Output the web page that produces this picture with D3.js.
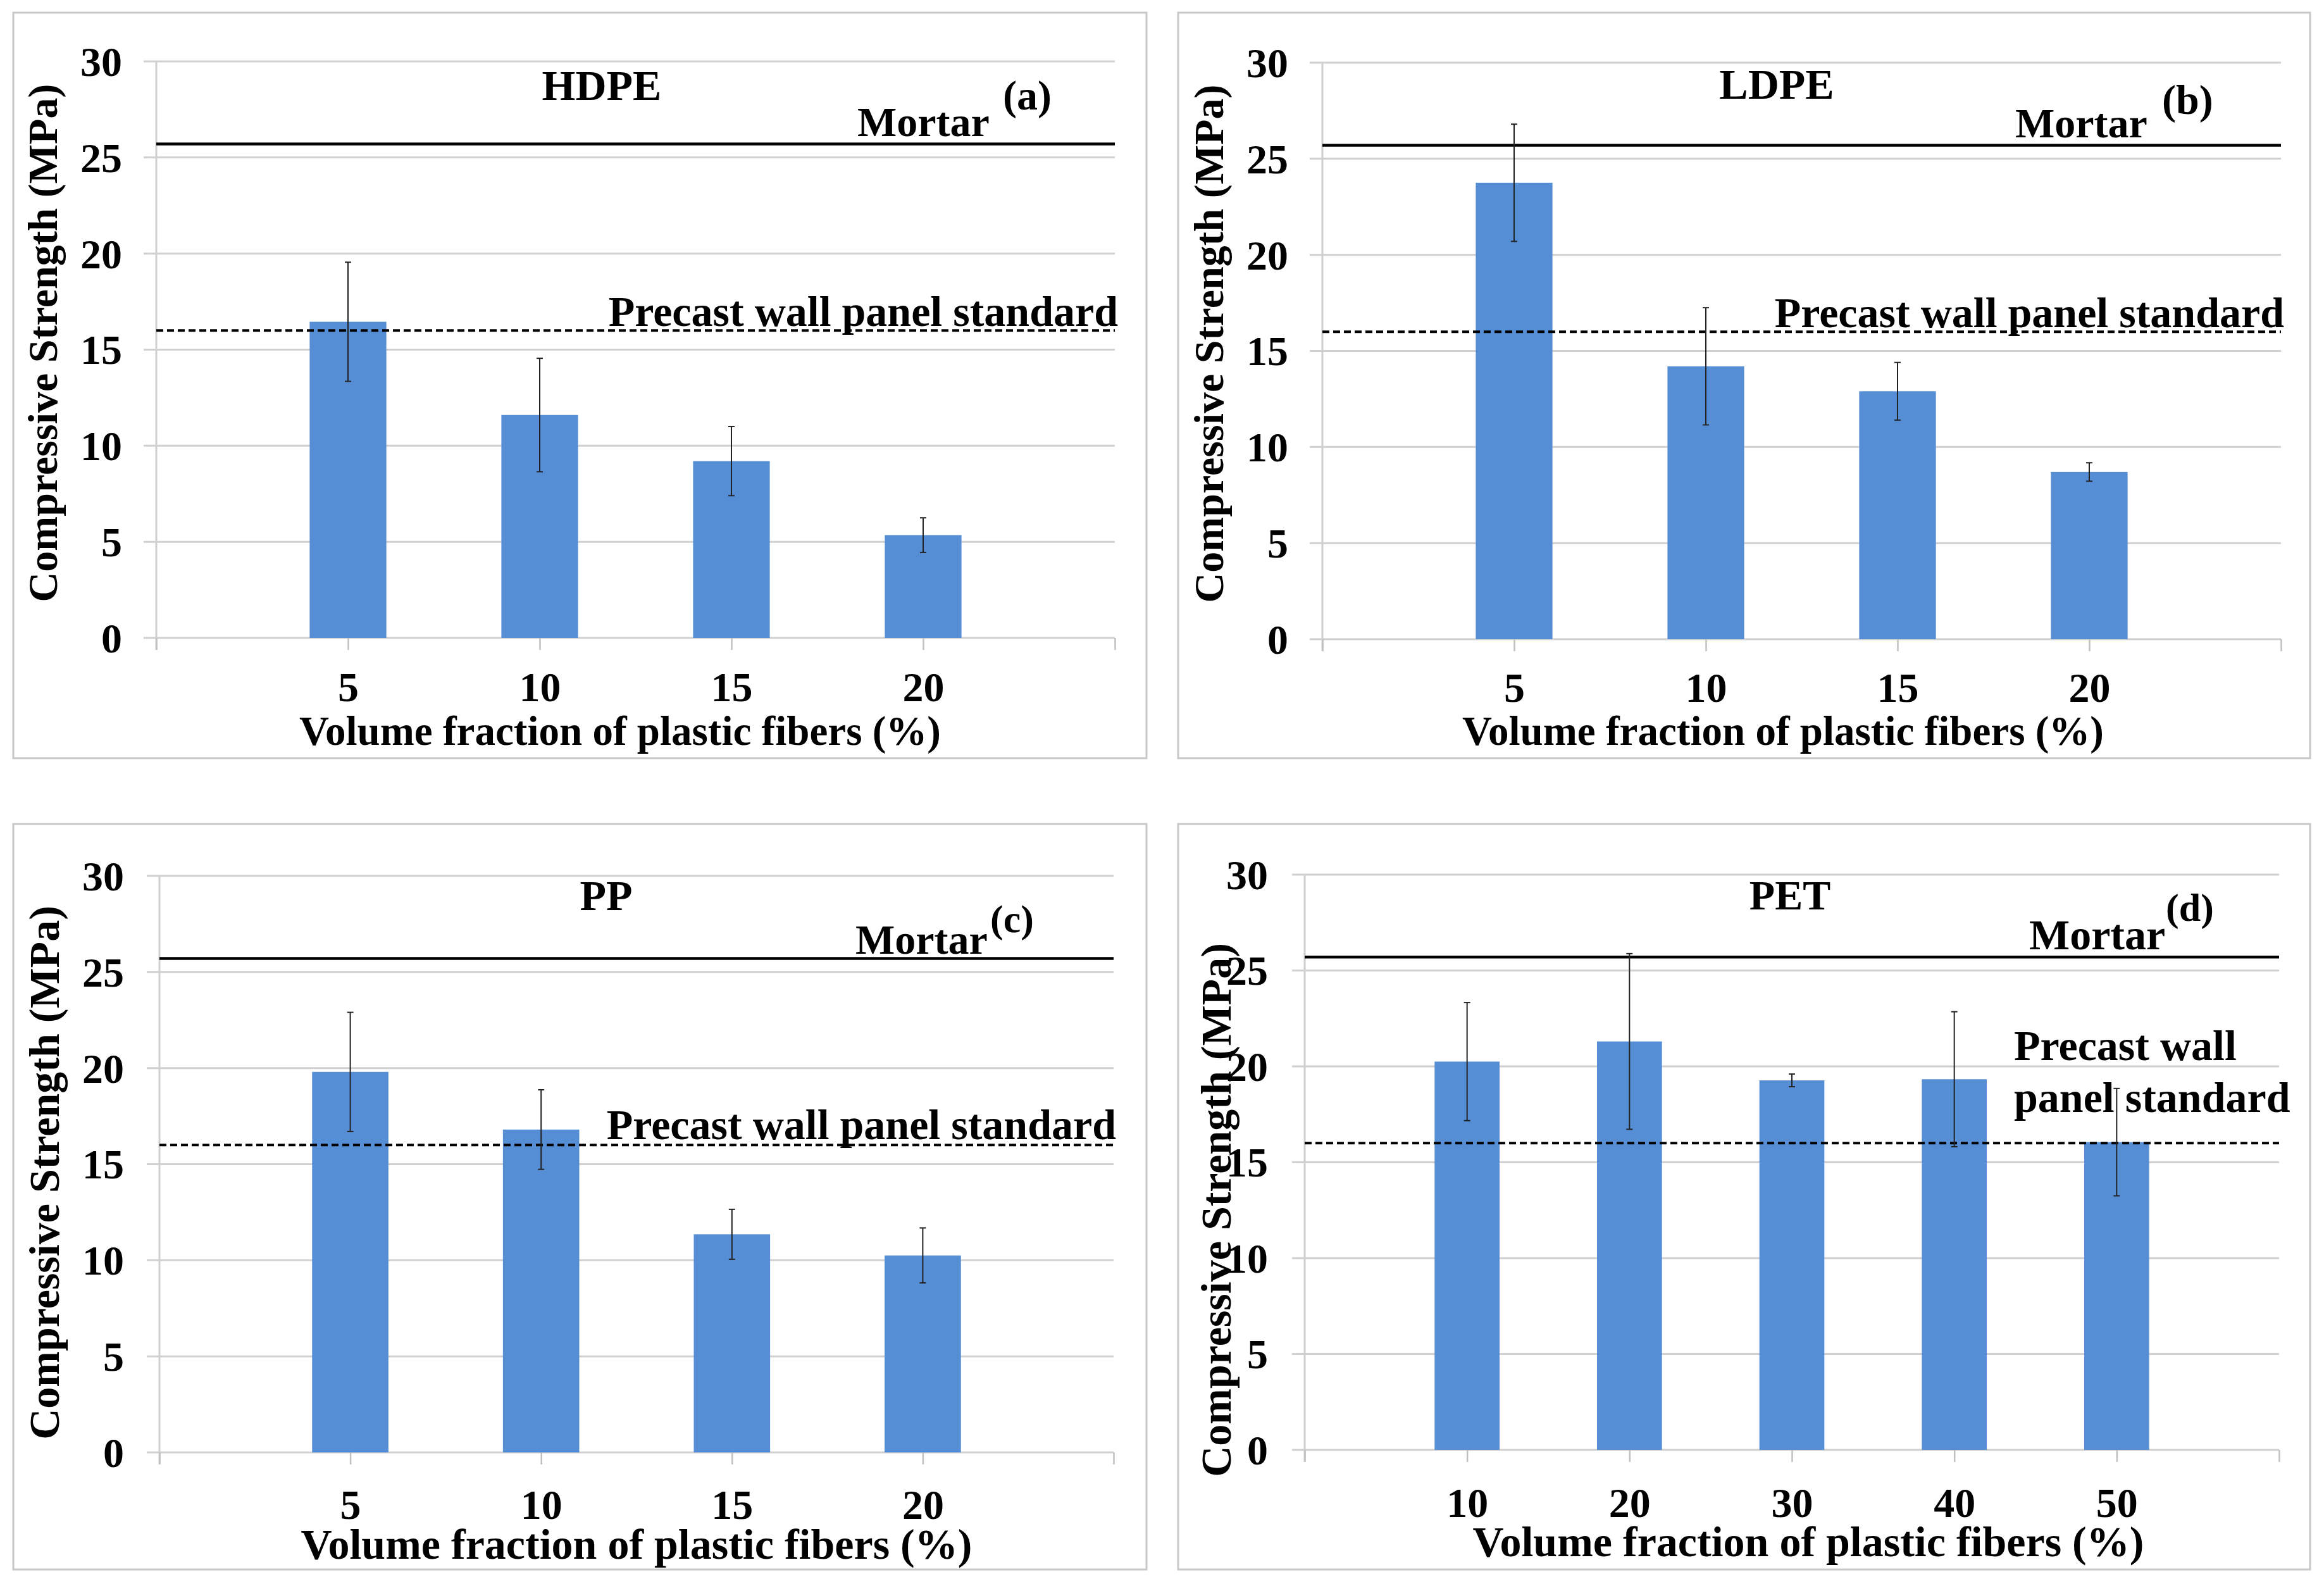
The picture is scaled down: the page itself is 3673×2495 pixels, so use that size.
<!DOCTYPE html>
<html><head><meta charset="utf-8">
<script src="https://cdn.jsdelivr.net/npm/d3@7"></script>
<style>html,body{margin:0;padding:0;background:#fff;} svg{display:block;}</style>
</head><body>
<svg id="chart" width="3673" height="2495"></svg>
<script>
// ---------------- DATA ----------------
const panelTags = ["(a)", "(b)", "(c)", "(d)"];
const materials = ["HDPE", "LDPE", "PP", "PET"];

const fractionsHDPE = [5, 10, 15, 20];
const strengthHDPE  = [16.45, 11.6, 9.2, 5.35];
const errorHDPE     = [3.1, 2.95, 1.8, 0.9];

const fractionsLDPE = [5, 10, 15, 20];
const strengthLDPE  = [23.75, 14.2, 12.9, 8.7];
const errorLDPE     = [3.05, 3.05, 1.5, 0.48];

const fractionsPP = [5, 10, 15, 20];
const strengthPP  = [19.8, 16.8, 11.35, 10.25];
const errorPP     = [3.1, 2.07, 1.3, 1.43];

const fractionsPET = [10, 20, 30, 40, 50];
const strengthPET  = [20.25, 21.3, 19.27, 19.33, 16.05];
const errorPET     = [3.08, 4.58, 0.33, 3.52, 2.8];

const yTicks = [0, 5, 10, 15, 20, 25, 30];
const xDomains = [[0, 25], [0, 25], [0, 25], [0, 60]];
const xSteps = [5, 5, 5, 10];

const mortarStrength = 25.7;
const standardStrength = 16;
const mortarLabel = "Mortar";
const standardLabel = "Precast wall panel standard";
const standardLabelLines = ["Precast wall", "panel standard"];
const yAxisTitle = "Compressive Strength (MPa)";
const xAxisTitle = "Volume fraction of plastic fibers (%)";

// ---------------- LAYOUT ----------------
const layouts = [
  { box:[21,20,1812,1198], x0:247, x1:1762, y0:1008, y30:97, yTickRight:193,
    yLabel:{x:70,y:542,size:66}, title:{x:951,y:158,size:68},
    mortar:{x:1355,y:215,size:66}, tag:{x:1585,y:173,size:66},
    precast:{x:1767,y:515,size:68,anchor:"end"}, xTickBase:1108,
    xTitle:{x:980,y:1177,size:65} },
  { box:[1862,20,3651,1198], x0:2090, x1:3605, y0:1010, y30:99, yTickRight:2036,
    yLabel:{x:1913,y:543,size:66}, title:{x:2808,y:156,size:68},
    mortar:{x:3185,y:217,size:66}, tag:{x:3417,y:180,size:66},
    precast:{x:3610,y:517,size:68,anchor:"end"}, xTickBase:1109,
    xTitle:{x:2818,y:1177,size:65} },
  { box:[21,1302,1812,2480], x0:252, x1:1760, y0:2295, y30:1384, yTickRight:196,
    yLabel:{x:73,y:1853,size:68}, title:{x:958,y:1438,size:68},
    mortar:{x:1352,y:1507,size:66}, tag:{x:1565,y:1473,size:62},
    precast:{x:1764,y:1800,size:68,anchor:"end"}, xTickBase:2400,
    xTitle:{x:1006,y:2463,size:68} },
  { box:[1862,1302,3651,2480], x0:2062, x1:3602, y0:2291, y30:1382, yTickRight:2004,
    yLabel:{x:1925,y:1912,size:68}, title:{x:2829,y:1437,size:66},
    mortar:{x:3207,y:1500,size:68}, tag:{x:3423,y:1455,size:62},
    precastLines:{x:3183,y:[1675,1757],size:68}, xTickBase:2397,
    xTitle:{x:2858,y:2459,size:68} }
];

const FONT = "'Liberation Serif','Times New Roman',serif";
const BAR = "#558ED5";
const GRID = "#d0d0d0";

const datasets = [
  {f:fractionsHDPE, s:strengthHDPE, e:errorHDPE},
  {f:fractionsLDPE, s:strengthLDPE, e:errorLDPE},
  {f:fractionsPP,   s:strengthPP,   e:errorPP},
  {f:fractionsPET,  s:strengthPET,  e:errorPET}
];

const svg = d3.select("#chart");
svg.append("rect").attr("width",3673).attr("height",2495).attr("fill","#fff");

function txt(g, t, x, y, size, anchor) {
  return g.append("text").attr("x",x).attr("y",y).attr("font-family",FONT)
    .attr("font-weight","bold").attr("font-size",size).attr("text-anchor",anchor||"start")
    .attr("fill","#000").text(t);
}

datasets.forEach((ds, i) => {
  const L = layouts[i];
  const g = svg.append("g");
  g.append("rect").attr("x",L.box[0]).attr("y",L.box[1])
    .attr("width",L.box[2]-L.box[0]).attr("height",L.box[3]-L.box[1])
    .attr("fill","#fff").attr("stroke","#c8c8c8").attr("stroke-width",3);

  const x = d3.scaleLinear().domain(xDomains[i]).range([L.x0, L.x1]);
  const y = d3.scaleLinear().domain([0, 30]).range([L.y0, L.y30]);
  const bw = 0.4 * (x(xSteps[i]) - x(0));

  // gridlines with outward tick stubs
  g.selectAll(".grid").data(yTicks).join("line")
    .attr("x1", L.x0 - 20).attr("x2", L.x1)
    .attr("y1", d => y(d)).attr("y2", d => y(d))
    .attr("stroke", GRID).attr("stroke-width", 3);

  // vertical axis line
  g.append("line").attr("x1",L.x0).attr("x2",L.x0).attr("y1",y(30)).attr("y2",y(0)+19)
    .attr("stroke",GRID).attr("stroke-width",3);

  // x tick marks
  const xTickVals = [xDomains[i][0]].concat(ds.f, [xDomains[i][1]]);
  const xAxisMarks = d3.axisBottom(x).tickValues(xTickVals).tickSize(19).tickFormat("");
  g.append("g").attr("transform",`translate(0,${y(0)})`).call(xAxisMarks)
    .call(a => { a.select(".domain").remove(); a.selectAll("text").remove();
      a.selectAll("line").attr("stroke","#c0c0c0").attr("stroke-width",2.5); });

  // y tick labels
  const yAxis = d3.axisLeft(y).tickValues(yTicks).tickSize(0).tickPadding(L.x0 - L.yTickRight);
  g.append("g").attr("transform",`translate(${L.x0},0)`).call(yAxis)
    .call(a => { a.select(".domain").remove();
      a.selectAll("text").attr("font-family",FONT).attr("font-weight","bold")
        .attr("font-size",66).attr("fill","#000").attr("dy","0.34em"); });

  // x tick labels
  const xs = 66;
  const xAxis = d3.axisBottom(x).tickValues(ds.f).tickSize(0)
    .tickPadding((L.xTickBase - L.y0) - 0.71 * xs).tickFormat(d3.format("d"));
  g.append("g").attr("transform",`translate(0,${y(0)})`).call(xAxis)
    .call(a => { a.select(".domain").remove();
      a.selectAll("text").attr("font-family",FONT).attr("font-weight","bold")
        .attr("font-size",xs).attr("fill","#000"); });

  // bars
  g.selectAll(".bar").data(ds.f).join("rect")
    .attr("x", d => x(d) - bw/2).attr("width", bw)
    .attr("y", (d,k) => y(ds.s[k])).attr("height", (d,k) => y(0) - y(ds.s[k]))
    .attr("fill", BAR);

  // reference lines
  g.append("line").attr("x1",x(xDomains[i][0])).attr("x2",x(xDomains[i][1]))
    .attr("y1",y(mortarStrength)).attr("y2",y(mortarStrength))
    .attr("stroke","#000").attr("stroke-width",4.5);
  g.append("line").attr("x1",x(xDomains[i][0])).attr("x2",x(xDomains[i][1]))
    .attr("y1",y(standardStrength)).attr("y2",y(standardStrength))
    .attr("stroke","#000").attr("stroke-width",4).attr("stroke-dasharray","11,6");

  // texts
  txt(g, materials[i], L.title.x, L.title.y, L.title.size, "middle");
  txt(g, mortarLabel, L.mortar.x, L.mortar.y, L.mortar.size);
  txt(g, panelTags[i], L.tag.x, L.tag.y, L.tag.size);
  if (L.precast) {
    txt(g, standardLabel, L.precast.x, L.precast.y, L.precast.size, L.precast.anchor);
  } else {
    standardLabelLines.forEach((t, k) =>
      txt(g, t, L.precastLines.x, L.precastLines.y[k], L.precastLines.size));
  }
  g.append("text").attr("transform",`translate(${L.yLabel.x},${L.yLabel.y}) rotate(-90)`)
    .attr("dy","0.3em").attr("font-family",FONT).attr("font-weight","bold")
    .attr("font-size",L.yLabel.size).attr("text-anchor","middle").attr("fill","#000")
    .text(yAxisTitle);
  txt(g, xAxisTitle, L.xTitle.x, L.xTitle.y, L.xTitle.size, "middle");

  // error bars
  const eb = g.selectAll(".eb").data(ds.f).join("g");
  eb.append("line").attr("x1", d => x(d)).attr("x2", d => x(d))
    .attr("y1", (d,k) => y(ds.s[k] - ds.e[k])).attr("y2", (d,k) => y(ds.s[k] + ds.e[k]))
    .attr("stroke","#222").attr("stroke-width",2);
  [-1, 1].forEach(sgn => {
    eb.append("line").attr("x1", d => x(d) - 5).attr("x2", d => x(d) + 5)
      .attr("y1", (d,k) => y(ds.s[k] + sgn*ds.e[k])).attr("y2", (d,k) => y(ds.s[k] + sgn*ds.e[k]))
      .attr("stroke","#222").attr("stroke-width",2);
  });
});
</script></body></html>
